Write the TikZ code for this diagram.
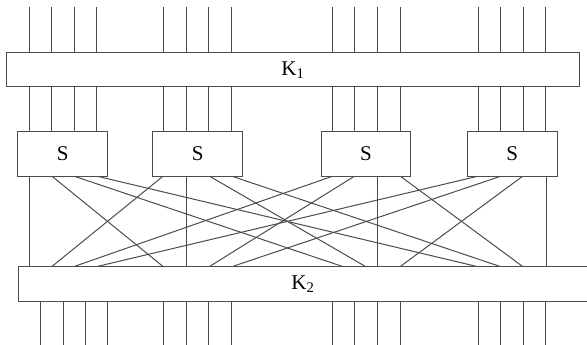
\documentclass[tikz,border=0pt]{standalone}
\usepackage{fontspec}
\setmainfont{Liberation Serif}
\begin{document}
\begin{tikzpicture}[x=1pt,y=-1pt,
  wire/.style={draw=black!70,line width=1pt},
  bx/.style={draw=black!70,line width=1pt,rectangle,inner sep=0pt,fill=white},
  lbl/.style={font=\fontsize{21}{21}\selectfont}]
\clip (0,0) rectangle (587,345);
\fill[white] (0,0) rectangle (587,345);
% boxes
\node[bx,minimum width=572.6pt,minimum height=34pt] (K1) at (293,69.7) {};
\node[lbl] at (K1.center) {K\textsubscript{1}};
\node[bx,minimum width=590pt,minimum height=34.3pt,anchor=west] (K2) at (17.7,283.85) {};
\node[lbl] at (303,283.85) {K\textsubscript{2}};
\node[bx,minimum width=90pt,minimum height=44.3pt] (S1) at (62.7,153.85) {};
\node[bx,minimum width=90pt,minimum height=44.3pt] (S2) at (197.7,153.85) {};
\node[bx,minimum width=89.7pt,minimum height=44.3pt] (S3) at (365.85,153.85) {};
\node[bx,minimum width=89.7pt,minimum height=44.3pt] (S4) at (512.15,153.85) {};
\foreach \i in {1,...,4}{\node[lbl] at (S\i.center) {S};}
% top wires
\foreach \s/\xa/\xb/\xc/\xd in {1/29.3/51.7/74/96.7,2/163.7/186/208.7/231.3,3/332.3/354.7/377.3/400,4/478.3/500.7/523/545.7}{
  \foreach \x in {\xa,\xb,\xc,\xd}{
    \coordinate (t) at (\x,7);
    \draw[wire] (t) -- (t |- K1.north);
    \draw[wire] (t |- K1.south) -- (t |- S\s.north);
  }
}
% bottom wires
\foreach \x in {40.3,63,85.3,107.7,163.7,186,208.7,231.3,332.3,354.7,377.3,400,478.3,500.7,523,545.7}{
  \coordinate (b) at (\x,345);
  \draw[wire] (b |- K2.south) -- (b);
}
% crossbar: output j of S_i -> input i of group j
\foreach \s/\a/\b in {
  1/29.3/29.3, 1/52.3/162.7, 1/75/341.7, 1/98.3/475.7,
  2/162.7/52.3, 2/186/186, 2/210/365, 2/232.7/499.3,
  3/331.7/75, 3/354/210, 3/377.3/377.3, 3/400.7/522.3,
  4/476.7/98.3, 4/500/233.3, 4/522.3/400.7, 4/546/546}{
  \coordinate (p) at (\a,0);
  \coordinate (q) at (\b,0);
  \draw[wire] (p |- S\s.south) -- (q |- K2.north);
}
\end{tikzpicture}
\end{document}
